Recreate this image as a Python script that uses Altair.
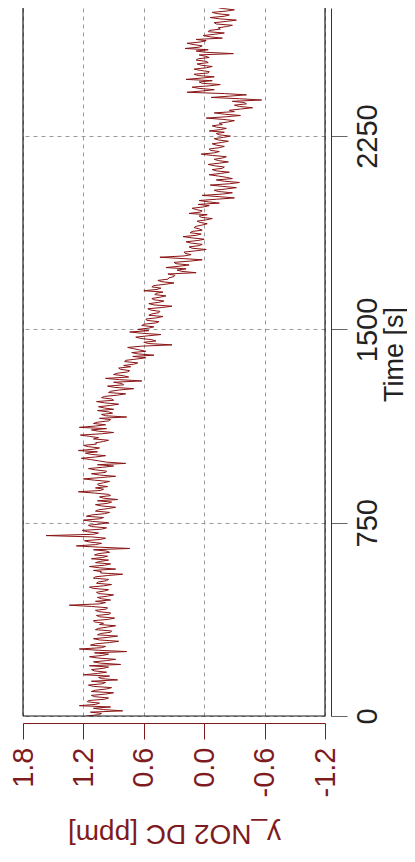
import altair as alt
import pandas as pd

# ---- data ----
# readings at whole 10 s steps
time_a = list(range(0, 2790, 10))
no2_a = [
    1.17, 1.02, 0.81, 1.10, 1.24, 1.04, 1.15, 0.95, 1.12, 0.90,
    1.08, 0.92, 1.15, 0.98, 0.86, 1.05, 1.20, 0.97, 1.12, 0.95,
    0.83, 1.10, 0.88, 1.14, 0.95, 0.77, 1.24, 0.98, 1.08, 0.85,
    1.10, 0.86, 1.03, 0.92, 1.05, 0.88, 1.00, 1.10, 0.89, 1.07,
    0.93, 1.08, 0.96, 1.34, 0.98, 0.93, 1.06, 0.90, 1.07, 0.95,
    1.14, 0.92, 1.05, 0.95, 1.08, 0.81, 1.02, 0.88, 1.14, 0.93,
    1.03, 1.12, 0.96, 1.05, 0.97, 0.74, 1.27, 1.02, 1.19, 0.98,
    1.57, 1.05, 1.21, 0.97, 1.15, 0.95, 1.20, 1.00, 1.12, 0.94,
    1.05, 0.88, 1.08, 0.92, 0.86, 1.04, 0.95, 1.25, 1.00, 0.96,
    1.06, 0.94, 1.20, 0.88, 1.12, 0.97, 1.15, 0.90, 0.78, 1.05,
    1.22, 0.98, 1.18, 1.25, 1.04, 1.20, 1.08, 0.95, 1.05, 1.23,
    0.90, 1.12, 1.24, 0.98, 1.06, 0.93, 0.77, 1.02, 0.95, 0.90,
    1.05, 0.85, 1.07, 0.92, 0.99, 0.78, 0.93, 0.70, 0.96, 0.82,
    0.62, 0.98, 0.80, 0.86, 0.74, 0.85, 0.80, 0.66, 0.78, 0.58,
    0.50, 0.72, 0.64, 0.76, 0.32, 0.60, 0.52, 0.68, 0.43, 0.74,
    0.66, 0.50, 0.60, 0.45, 0.58, 0.41, 0.52, 0.44, 0.56, 0.32,
    0.55, 0.40, 0.52, 0.38, 0.48, 0.60, 0.43, 0.50, 0.30, 0.46,
    0.35, 0.29, 0.08, 0.27, 0.38, 0.15, 0.30, 0.02, 0.44, 0.13,
    0.20, -0.02, 0.15, 0.02, 0.18, 0.00, 0.21, 0.03, 0.12, 0.05,
    0.08, -0.03, 0.07, -0.08, 0.05, 0.15, 0.02, 0.12, -0.05, -0.15,
    0.05, -0.30, 0.02, -0.28, -0.10, -0.32, -0.06, -0.35, -0.12, -0.22,
    -0.05, -0.25, -0.08, -0.20, -0.04, -0.24, -0.10, -0.22, 0.03, -0.15,
    -0.05, -0.20, -0.08, -0.24, -0.10, -0.26, -0.12, -0.05, -0.22, -0.08,
    -0.15, -0.30, -0.02, -0.36, -0.10, -0.25, -0.48, -0.30, -0.40, -0.57,
    -0.07, -0.42, 0.17, -0.10, 0.12, -0.16, 0.05, 0.18, -0.10, 0.10,
    -0.05, 0.10, -0.08, 0.07, -0.02, 0.06, -0.01, -0.29, 0.08, 0.19,
    0.02, 0.17, -0.02, -0.18, 0.01, -0.20, -0.05, -0.14, -0.28, -0.10,
    -0.32, -0.06, -0.25, -0.08, -0.30, -0.12, -0.22, -0.45, -0.30,
]
# readings at the half steps in between
time_b = list(range(5, 2785, 10))
no2_b = [
    1.05, 1.13, 1.00, 0.93, 1.08, 1.16, 0.99, 1.09, 0.98, 1.12,
    0.97, 1.10, 1.01, 1.12, 1.02, 0.94, 1.06, 1.09, 1.00, 1.14,
    1.03, 0.97, 1.06, 1.01, 1.09, 1.05, 1.02, 1.13, 0.94, 1.04,
    0.96, 1.06, 0.93, 1.08, 0.96, 1.04, 1.09, 0.95, 1.04, 0.94,
    1.05, 0.97, 1.12, 1.04, 1.08, 1.02, 0.96, 1.05, 0.99, 1.10,
    1.00, 1.07, 0.97, 1.10, 0.96, 1.03, 1.10, 1.04, 0.99, 1.08,
    0.95, 1.01, 1.09, 0.94, 1.10, 1.04, 1.08, 1.14, 1.03, 1.12,
    1.10, 1.16, 1.02, 1.12, 1.03, 1.11, 1.04, 1.17, 0.99, 1.08,
    0.95, 1.02, 0.96, 1.06, 1.00, 0.93, 1.09, 1.03, 1.08, 1.05,
    1.00, 1.09, 1.03, 1.04, 0.98, 1.08, 1.01, 1.06, 0.97, 1.13,
    1.08, 1.12, 1.06, 1.10, 1.15, 1.07, 1.00, 1.10, 1.14, 1.02,
    1.05, 0.97, 1.08, 1.10, 0.95, 1.04, 0.98, 0.91, 1.06, 0.99,
    0.93, 0.99, 0.90, 1.02, 0.86, 0.95, 0.84, 0.89, 0.80, 0.90,
    0.84, 0.75, 0.90, 0.76, 0.83, 0.73, 0.70, 0.79, 0.67, 0.71,
    0.66, 0.58, 0.70, 0.62, 0.55, 0.48, 0.63, 0.56, 0.62, 0.55,
    0.55, 0.62, 0.48, 0.57, 0.47, 0.55, 0.45, 0.53, 0.42, 0.50,
    0.45, 0.50, 0.44, 0.49, 0.41, 0.47, 0.52, 0.39, 0.42, 0.36,
    0.30, 0.36, 0.22, 0.18, 0.25, 0.28, 0.14, 0.22, 0.20, 0.19,
    0.08, 0.12, 0.05, 0.13, 0.06, 0.12, 0.08, 0.14, 0.02, 0.10,
    0.02, 0.04, -0.02, 0.03, -0.03, 0.04, 0.08, 0.01, 0.06, -0.04,
    -0.12, -0.15, -0.18, -0.14, -0.22, -0.18, -0.25, -0.20, -0.28, -0.14,
    -0.16, -0.12, -0.18, -0.10, -0.15, -0.14, -0.18, -0.08, -0.10, -0.06,
    -0.15, -0.12, -0.17, -0.14, -0.19, -0.15, -0.20, -0.16, -0.12, -0.18,
    -0.24, -0.18, -0.22, -0.20, -0.30, -0.36, -0.35, -0.42, -0.28, -0.35,
    -0.25, -0.20, 0.02, 0.05, -0.05, 0.02, -0.08, 0.03, 0.06, -0.04,
    0.04, -0.02, 0.03, -0.04, 0.08, -0.05, 0.05, -0.02, -0.04, 0.05,
    0.10, 0.04, 0.08, -0.06, -0.10, -0.04, -0.16, -0.22, -0.12, -0.22,
    -0.15, -0.20, -0.13, -0.22, -0.18, -0.28, -0.35, -0.26,
]
ppm_ticks = [1.8, 1.2, 0.6, 0.0, -0.6, -1.2]
time_ticks = [0, 750, 1500, 2250]
ppm_domain = [1.8, -1.2]
time_domain = [0, 2747]
frame_ppm = [1.8, -1.2]
frame_time = [0]

RED = "#7d1b1f"
LINE = "#8a1414"
FONT = "Liberation Sans"
GRID = "#9a9a9a"

df = pd.concat([
    pd.DataFrame({"time": time_a, "no2": no2_a}),
    pd.DataFrame({"time": time_b, "no2": no2_b}),
], ignore_index=True).sort_values("time")

xs = alt.Scale(domain=ppm_domain, nice=False, zero=False)
ys = alt.Scale(domain=time_domain, nice=False, zero=False)

x_axis = alt.Axis(
    orient="bottom", values=ppm_ticks, title="y_NO2 DC [ppm]",
    labelExpr="replace(format(datum.value, '.1f'), '\u2212', '-')",
    offset=7, tickSize=16, tickWidth=1, domainWidth=1,
    domainColor=RED, tickColor=RED, labelColor=RED, titleColor=RED,
    labelFont=FONT, titleFont=FONT, labelFontSize=29, titleFontSize=28,
    labelFontWeight="normal", titleFontWeight="normal",
    labelAngle=270, labelAlign="right", labelBaseline="middle", labelPadding=8,
    labelFlush=False, labelOverlap=False, labelBound=False,
    titleAngle=180, titleBaseline="alphabetic", titleAlign="center", titleY=101,
    grid=True, gridDash=[4, 4], gridColor=GRID, gridWidth=1,
)
y_axis = alt.Axis(
    orient="right", values=time_ticks, format="d", title="Time [s]",
    offset=6, tickSize=16, tickWidth=1, domainWidth=1,
    domainColor="#333333", tickColor="#666666", labelColor="#222222", titleColor="#222222",
    labelFont=FONT, titleFont=FONT, labelFontSize=29, titleFontSize=27,
    labelFontWeight="normal", titleFontWeight="normal",
    labelAngle=270, labelAlign="center", labelBaseline="top", labelPadding=6,
    labelFlush=False, labelOverlap=False, labelBound=False,
    titleAngle=270, titleBaseline="alphabetic", titleAlign="center", titleX=71, titleY=346,
    grid=True, gridDash=[4, 4], gridColor=GRID, gridWidth=1,
)

line = alt.Chart(df).mark_line(color=LINE, strokeWidth=1.0, clip=True).encode(
    x=alt.X("no2:Q", scale=xs, axis=x_axis),
    y=alt.Y("time:Q", scale=ys, axis=y_axis),
    order=alt.Order("time:Q"),
)

frame_v = alt.Chart(pd.DataFrame({"p": frame_ppm})).mark_rule(color="#1a1a1a", strokeWidth=1.2).encode(
    x=alt.X("p:Q", scale=xs),
)
frame_h = alt.Chart(pd.DataFrame({"t": frame_time})).mark_rule(color="#1a1a1a", strokeWidth=1.2).encode(
    y=alt.Y("t:Q", scale=ys),
)

chart = alt.layer(line, frame_v, frame_h).properties(
    width=302, height=708,
    autosize=alt.AutoSizeParams(type="none"),
    padding={"left": 15, "top": 0, "right": 82, "bottom": 132},
).configure_view(strokeWidth=0)

chart.save("out.html", embed_options={"renderer": "svg", "actions": False})
